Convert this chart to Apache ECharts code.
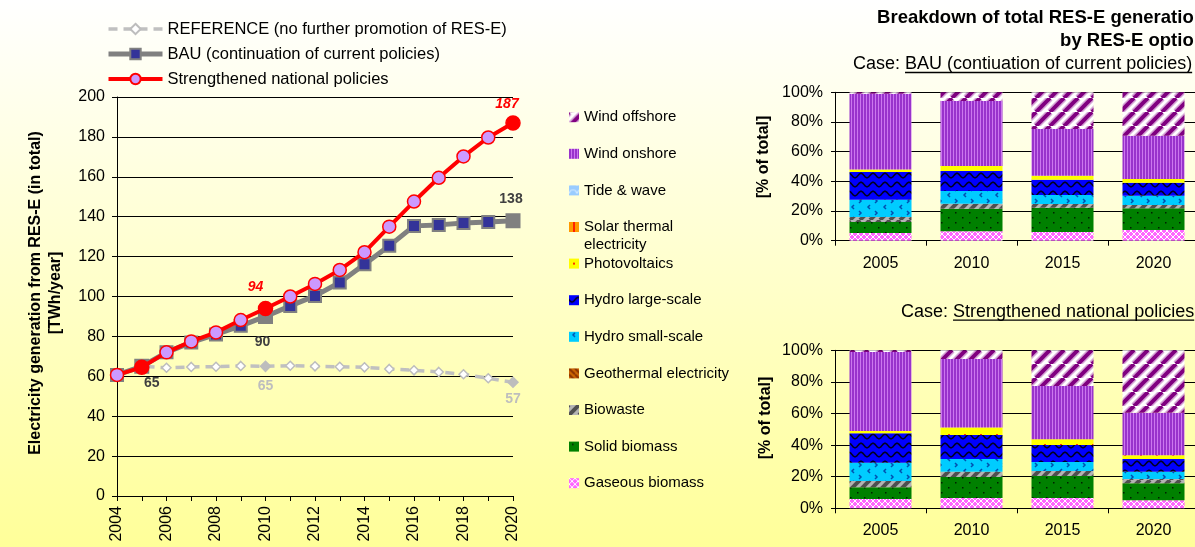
<!DOCTYPE html>
<html><head><meta charset="utf-8">
<script src="https://cdn.jsdelivr.net/npm/echarts@6/dist/echarts.min.js"></script>
<style>html,body{margin:0;padding:0;background:#fff}#c{width:1195px;height:547px}</style>
</head><body><div id="c"></div>
<script>
const FONT = '"Liberation Sans", Arial, Helvetica, sans-serif';

// ---------- data: left line chart (TWh/year) ----------
const years = ['2004','2005','2006','2007','2008','2009','2010','2011','2012','2013','2014','2015','2016','2017','2018','2019','2020'];
const referenceTWh    = [60.7, 65.0, 64.3, 64.7, 64.8, 65.2, 65.0, 65.3, 65.0, 64.8, 64.5, 63.7, 63.0, 62.2, 61.0, 59.0, 57.0];
const bauTWh          = [60.7, 65.0, 72.0, 77.0, 81.0, 85.3, 90.0, 95.3, 100.3, 107.0, 116.2, 125.4, 135.4, 135.9, 136.8, 137.3, 138.0];
const strengthenedTWh = [60.7, 64.5, 72.0, 77.5, 82.0, 88.2, 94.0, 100.0, 106.3, 113.3, 122.2, 135.0, 147.6, 159.5, 170.2, 179.7, 187.0];
const lineNames = ['REFERENCE (no further promotion of RES-E)', 'BAU (continuation of current policies)', 'Strengthened national policies'];

// ---------- data: right stacked bar charts (% of total) ----------
const barYears = ['2005','2010','2015','2020'];
const techNames = ['Gaseous biomass','Solid biomass','Biowaste','Geothermal electricity','Hydro small-scale','Hydro large-scale','Photovoltaics','Solar thermal electricity','Tide & wave','Wind onshore','Wind offshore'];
// BAU case
const bauGaseous      = [5.2, 6.3, 5.8, 7.2];
const bauSolid        = [7.4, 15.3, 16.4, 14.6];
const bauBiowaste     = [3.4, 3.3, 2.5, 2.2];
const bauGeothermal   = [0, 0, 0, 0];
const bauHydroSmall   = [11.6, 8.6, 6.1, 6.3];
const bauHydroLarge   = [18.7, 13.5, 10.3, 8.8];
const bauPV           = [1.6, 3.3, 2.7, 2.5];
const bauSolarThermal = [0, 0, 0, 0];
const bauTide         = [0, 0, 0, 0];
const bauWindOn       = [51.2, 43.9, 31.5, 29.2];
const bauWindOff      = [0.9, 5.8, 24.7, 29.2];
// Strengthened national policies case
const strGaseous      = [5.9, 6.5, 6.5, 5.1];
const strSolid        = [7.4, 13.3, 14.0, 10.7];
const strBiowaste     = [4.0, 3.4, 3.1, 2.8];
const strGeothermal   = [0, 0, 0, 0];
const strHydroSmall   = [11.6, 8.0, 5.7, 4.6];
const strHydroLarge   = [18.6, 15.2, 10.8, 8.0];
const strPV           = [1.4, 4.7, 3.6, 2.3];
const strSolarThermal = [0, 0, 0, 0];
const strTide         = [0, 0, 0, 0];
const strWindOn       = [50.0, 43.4, 33.7, 27.0];
const strWindOff      = [1.1, 5.5, 22.6, 39.5];

const bauShares = [bauGaseous, bauSolid, bauBiowaste, bauGeothermal, bauHydroSmall, bauHydroLarge, bauPV, bauSolarThermal, bauTide, bauWindOn, bauWindOff];
const strShares = [strGaseous, strSolid, strBiowaste, strGeothermal, strHydroSmall, strHydroLarge, strPV, strSolarThermal, strTide, strWindOn, strWindOff];

// ---------- pattern fills ----------
function makeTile(w, h, draw) {
  const c = document.createElement('canvas');
  c.width = w; c.height = h;
  draw(c.getContext('2d'), w, h);
  return { image: c, repeat: 'repeat' };
}
function diag(g, w, h, color, lw, dir) {
  g.strokeStyle = color; g.lineWidth = lw;
  for (let k = -1; k <= 1; k++) {
    g.beginPath();
    if (dir === '/') { g.moveTo(k * w, h); g.lineTo(k * w + w, 0); }
    else { g.moveTo(k * w, 0); g.lineTo(k * w + w, h); }
    g.stroke();
  }
}
const fills = {
  'Wind offshore': makeTile(14, 14, (g, w, h) => { g.fillStyle = '#FFFFFF'; g.fillRect(0, 0, w, h); diag(g, w, h, '#D6A6D6', 7, '/'); diag(g, w, h, '#800080', 4, '/'); }),
  'Wind onshore': makeTile(3, 2, (g) => { g.fillStyle = '#9933CC'; g.fillRect(0, 0, 2, 2); g.fillStyle = '#CC77EE'; g.fillRect(2, 0, 1, 2); }),
  'Tide & wave': makeTile(8, 8, (g, w, h) => { g.fillStyle = '#99CCFF'; g.fillRect(0, 0, w, h); g.strokeStyle = '#D0E8FF'; g.lineWidth = 1.2; g.beginPath(); g.arc(4, 8, 3.5, Math.PI, 2 * Math.PI); g.stroke(); }),
  'Solar thermal electricity': makeTile(6, 2, (g) => { g.fillStyle = '#FF9900'; g.fillRect(0, 0, 6, 2); g.fillStyle = '#FF2200'; g.fillRect(4, 0, 2, 2); }),
  'Photovoltaics': makeTile(16, 10, (g, w, h) => { g.fillStyle = '#FFFF00'; g.fillRect(0, 0, w, h); g.fillStyle = '#FF3300'; g.fillRect(4, 4, 2, 2); }),
  'Hydro large-scale': makeTile(12, 9, (g, w, h) => { g.fillStyle = '#0000FF'; g.fillRect(0, 0, w, h); g.strokeStyle = '#000022'; g.lineWidth = 1.6; g.beginPath(); for (let x = -1; x <= w + 1; x += 0.5) { const y = 4.5 + 2.2 * Math.sin(2 * Math.PI * x / w); if (x === -1) g.moveTo(x, y); else g.lineTo(x, y); } g.stroke(); }),
  'Hydro small-scale': makeTile(16, 12, (g, w, h) => { g.fillStyle = '#00CCFF'; g.fillRect(0, 0, w, h); g.strokeStyle = '#0050B0'; g.lineWidth = 1.5; g.beginPath(); g.moveTo(6, 1); g.lineTo(4, 3); g.lineTo(6, 5); g.moveTo(11, 7); g.lineTo(13, 9); g.lineTo(11, 11); g.stroke(); }),
  'Geothermal electricity': makeTile(6, 6, (g, w, h) => { g.fillStyle = '#CC6600'; g.fillRect(0, 0, w, h); diag(g, w, h, '#8B3300', 2, '\\'); }),
  'Biowaste': makeTile(10, 10, (g, w, h) => { g.fillStyle = '#B4B4B4'; g.fillRect(0, 0, w, h); diag(g, w, h, '#505050', 4, '/'); }),
  'Solid biomass': makeTile(14, 10, (g, w, h) => { g.fillStyle = '#008000'; g.fillRect(0, 0, w, h); g.fillStyle = '#002000'; g.fillRect(3, 2, 1.5, 1.5); g.fillRect(10, 7, 1.5, 1.5); }),
  'Gaseous biomass': makeTile(6, 6, (g, w, h) => { g.fillStyle = '#FF66FF'; g.fillRect(0, 0, w, h); diag(g, w, h, '#FFFFFF', 1, '/'); diag(g, w, h, '#FFFFFF', 1, '\\'); })
};

// ---------- line series styling ----------
const lineDefs = [
  { values: referenceTWh, symbol: 'diamond', size: 9, bigSize: 10,
    line: { color: '#C0C0C0', width: 3.5, type: [9, 6] },
    item: { color: '#FFFFFF', borderColor: '#BDBDBD', borderWidth: 1.5 },
    fillAt: [6, 16], fill: '#BDBDBD',
    labels: { 6: [0, 20], 16: [0, 17] }, labelColor: '#BEBEBE', italic: false },
  { values: bauTWh, symbol: 'rect', size: 12, bigSize: 13,
    line: { color: '#808080', width: 5 },
    item: { color: '#333399', borderColor: '#808080', borderWidth: 2 },
    fillAt: [1, 6, 16], fill: '#808080',
    labels: { 1: [10, 17], 6: [-3, 26], 16: [-2, -22] }, labelColor: '#404040', italic: false },
  { values: strengthenedTWh, symbol: 'circle', size: 13, bigSize: 14,
    line: { color: '#FF0000', width: 4 },
    item: { color: '#CC99FF', borderColor: '#FF0000', borderWidth: 1.5 },
    fillAt: [1, 6, 16], fill: '#FF0000',
    labels: { 6: [-10, -21], 16: [-6, -19] }, labelColor: '#FF0000', italic: true }
];

const lineSeries = lineDefs.map((d, si) => ({
  name: lineNames[si], type: 'line', xAxisIndex: 0, yAxisIndex: 0, z: 3 + si,
  symbol: d.symbol, symbolSize: d.size, showAllSymbol: true,
  lineStyle: d.line, itemStyle: d.item,
  data: d.values.map((v, i) => {
    const p = { value: v };
    if (d.fillAt.includes(i)) { p.itemStyle = { color: d.fill, borderColor: d.fill }; p.symbolSize = d.bigSize; }
    if (d.labels[i]) {
      p.label = { show: true, position: 'inside', offset: d.labels[i],
        formatter: (x) => String(Math.round(x.value)),
        color: d.labelColor, fontWeight: 'bold', fontStyle: d.italic ? 'italic' : 'normal',
        fontSize: 14, fontFamily: FONT };
    }
    return p;
  })
}));

const barSeries = [];
[[bauShares, 'bau', 1], [strShares, 'str', 2]].forEach(([shares, stack, idx]) => {
  techNames.forEach((name, k) => {
    barSeries.push({
      name, type: 'bar', stack, xAxisIndex: idx, yAxisIndex: idx, barWidth: 62,
      data: shares[k], itemStyle: { color: fills[name] }
    });
  });
});

// ---------- text measurements for underlines ----------
const mctx = document.createElement('canvas').getContext('2d');
function textW(t, font) { mctx.font = font; return mctx.measureText(t).width; }
const CASE_FONT = '18px ' + FONT;
function caseGraphic(x0, y, label) {
  const full = 'Case: ' + label;
  const ux0 = x0 + textW('Case: ', CASE_FONT);
  const ux1 = x0 + textW(full, CASE_FONT);
  return [
    { type: 'text', x: x0, y: y, style: { text: full, fontSize: 18, fontFamily: FONT, fill: '#000', align: 'left', verticalAlign: 'middle' } },
    { type: 'line', shape: { x1: ux0, y1: y + 8.5, x2: ux1, y2: y + 8.5 }, style: { stroke: '#000', lineWidth: 1.3 } }
  ];
}

const axisBlack = { lineStyle: { color: '#000', width: 1 } };
const lab16 = { fontSize: 16, color: '#000', fontFamily: FONT };

const chart = echarts.init(document.getElementById('c'), null, { renderer: 'canvas' });
chart.setOption({
  animation: false,
  backgroundColor: { type: 'linear', x: 0, y: 0, x2: 0, y2: 1,
    colorStops: [{ offset: 0, color: '#FFFFFF' }, { offset: 1, color: '#FFFF99' }] },
  textStyle: { fontFamily: FONT },
  grid: [
    { left: 117, top: 97, width: 396, height: 399, outerBoundsMode: 'none', containLabel: false },
    { left: 835, top: 92.3, width: 364, height: 148.4, outerBoundsMode: 'none', containLabel: false },
    { left: 835, top: 350.3, width: 364, height: 158, outerBoundsMode: 'none', containLabel: false }
  ],
  xAxis: [
    { type: 'category', gridIndex: 0, data: years, boundaryGap: false,
      axisLine: axisBlack, axisTick: { show: true, interval: 0, length: 5, lineStyle: { color: '#000' } },
      axisLabel: Object.assign({ interval: 1, rotate: 90, margin: 10 }, lab16), splitLine: { show: false } },
    { type: 'category', gridIndex: 1, data: barYears,
      axisLine: axisBlack, axisTick: { show: true, length: 5, lineStyle: { color: '#000' } },
      axisLabel: Object.assign({ margin: 15 }, lab16), splitLine: { show: false } },
    { type: 'category', gridIndex: 2, data: barYears,
      axisLine: axisBlack, axisTick: { show: true, length: 5, lineStyle: { color: '#000' } },
      axisLabel: Object.assign({ margin: 14 }, lab16), splitLine: { show: false } }
  ],
  yAxis: [
    { type: 'value', gridIndex: 0, min: 0, max: 200, interval: 20,
      axisLine: Object.assign({ show: true }, axisBlack), axisTick: { show: true, length: 5, lineStyle: { color: '#000' } },
      axisLabel: Object.assign({ margin: 12 }, lab16), splitLine: { show: true, lineStyle: { color: '#000', width: 1 } } },
    { type: 'value', gridIndex: 1, min: 0, max: 100, interval: 20,
      axisLine: Object.assign({ show: true }, axisBlack), axisTick: { show: true, length: 4, lineStyle: { color: '#000' } },
      axisLabel: Object.assign({ margin: 12, formatter: '{value}%' }, lab16), splitLine: { show: true, lineStyle: { color: '#000', width: 1 } } },
    { type: 'value', gridIndex: 2, min: 0, max: 100, interval: 20,
      axisLine: Object.assign({ show: true }, axisBlack), axisTick: { show: true, length: 4, lineStyle: { color: '#000' } },
      axisLabel: Object.assign({ margin: 12, formatter: '{value}%' }, lab16), splitLine: { show: true, lineStyle: { color: '#000', width: 1 } } }
  ],
  legend: [
    { orient: 'vertical', left: 106, top: 20, padding: 0, itemWidth: 54, itemHeight: 13, itemGap: 7,
      data: lineNames, selectedMode: false,
      lineStyle: { width: 'inherit' },
      textStyle: { fontSize: 16.5, lineHeight: 18, color: '#000', fontFamily: FONT } },
    { orient: 'vertical', left: 569, top: 109.2, padding: 0, itemWidth: 10, itemHeight: 10, itemGap: 20.6,
      icon: 'rect', selectedMode: false,
      data: techNames.slice().reverse(),
      formatter: (n) => n === 'Solar thermal electricity' ? 'Solar thermal' : n,
      textStyle: { fontSize: 15, lineHeight: 16, color: '#000', fontFamily: FONT } }
  ],
  graphic: [
    { type: 'text', x: 46, y: 293, rotation: Math.PI / 2,
      style: { text: 'Electricity generation from RES-E (in total)\n[TWh/year]', fontSize: 16, fontWeight: 'bold', fontFamily: FONT, lineHeight: 20, fill: '#000', align: 'center', verticalAlign: 'middle' } },
    { type: 'text', x: 584, y: 244.5,
      style: { text: 'electricity', fontSize: 15, fontFamily: FONT, fill: '#000', align: 'left', verticalAlign: 'middle' } },
    { type: 'text', x: 1205, y: 18,
      style: { text: 'Breakdown of total RES-E generation', fontSize: 18.5, fontWeight: 'bold', fontFamily: FONT, fill: '#000', align: 'right', verticalAlign: 'middle' } },
    { type: 'text', x: 1205, y: 41,
      style: { text: 'by RES-E option', fontSize: 18.5, fontWeight: 'bold', fontFamily: FONT, fill: '#000', align: 'right', verticalAlign: 'middle' } },
    ...caseGraphic(853, 64, 'BAU (contiuation of current policies)'),
    ...caseGraphic(901, 311.7, 'Strengthened national policies'),
    { type: 'text', x: 764, y: 157, rotation: Math.PI / 2,
      style: { text: '[% of total]', fontSize: 16, fontWeight: 'bold', fontFamily: FONT, fill: '#000', align: 'center', verticalAlign: 'middle' } },
    { type: 'text', x: 766, y: 418, rotation: Math.PI / 2,
      style: { text: '[% of total]', fontSize: 16, fontWeight: 'bold', fontFamily: FONT, fill: '#000', align: 'center', verticalAlign: 'middle' } }
  ],
  series: lineSeries.concat(barSeries)
});
</script>
</body></html>
